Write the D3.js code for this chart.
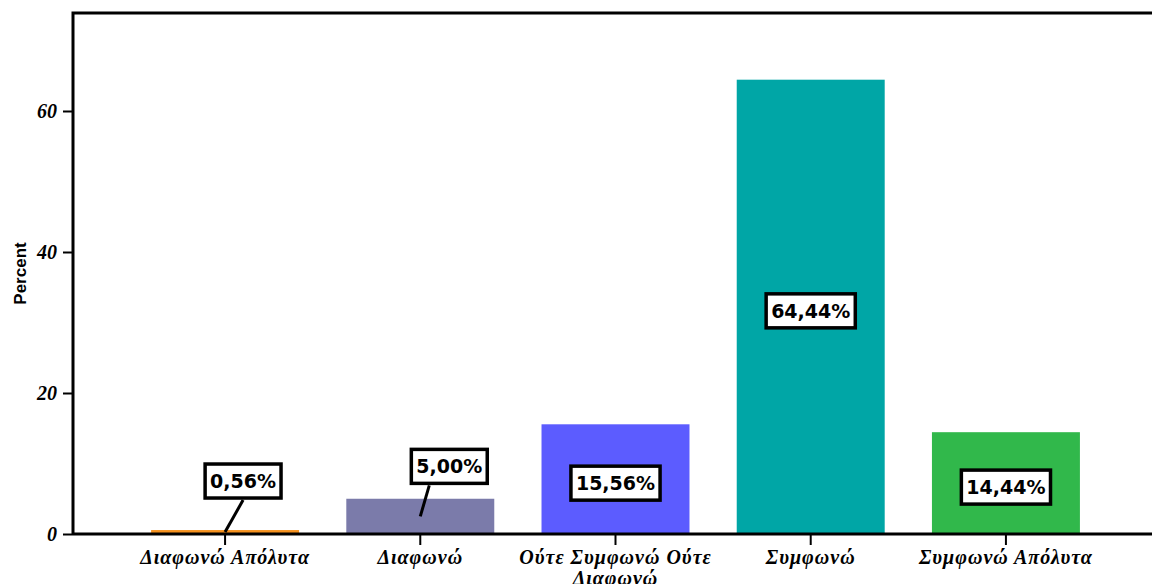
<!DOCTYPE html>
<html>
<head>
<meta charset="utf-8">
<script src="https://cdn.jsdelivr.net/npm/d3@7"></script>
<style>
  html, body { margin: 0; padding: 0; background: #fff; }
  svg { display: block; }
</style>
</head>
<body>
<svg id="chart" width="1152" height="584"></svg>
<script>
// Response categories and their share of answers (percent)
const categories = ["Διαφωνώ Απόλυτα", "Διαφωνώ", "Ούτε Συμφωνώ Ούτε Διαφωνώ", "Συμφωνώ", "Συμφωνώ Απόλυτα"];
const percents = [0.56, 5.00, 15.56, 64.44, 14.44];
const valueLabels = ["0,56%", "5,00%", "15,56%", "64,44%", "14,44%"];
const barColors = ["#f5911e", "#7b7baa", "#5c5cff", "#00a6a6", "#31b84b"];
const yTicks = [0, 20, 40, 60];

// Labels that do not fit inside their bar are lifted above it with a leader line:
// [box dx, box dy, leader start dx relative to the box centre]
const liftedNudge = [[18, -51, 0], [29, -50, -20]];

const svg = d3.select("#chart");
const margin = { left: 73, top: 13, right: -6 };
const W = 1152;
const plotBottom = 534;

const x = d3.scaleBand()
  .domain(categories)
  .range([margin.left, W - margin.right])
  .paddingInner(0.242)
  .paddingOuter(0.4);

const y = d3.scaleLinear()
  .domain([0, 73.9])
  .range([plotBottom, margin.top]);

// Bars
svg.append("g").selectAll("rect")
  .data(categories)
  .join("rect")
  .attr("x", d => x(d))
  .attr("width", x.bandwidth())
  .attr("y", (d, i) => y(percents[i]))
  .attr("height", (d, i) => y(0) - y(percents[i]))
  .attr("fill", (d, i) => barColors[i]);

// Frame: left axis line and top border
svg.append("path")
  .attr("d", `M${margin.left},${plotBottom}V${margin.top}H${W + 10}`)
  .attr("fill", "none").attr("stroke", "#000").attr("stroke-width", 3);

const serif = "'Liberation Serif', 'Times New Roman', serif";

// Y axis
const yAxis = svg.append("g")
  .attr("transform", `translate(${margin.left},0)`)
  .call(d3.axisLeft(y).tickValues(yTicks).tickSize(10).tickPadding(6).tickFormat(d3.format("d")));
yAxis.select(".domain").remove();
yAxis.selectAll(".tick line").attr("stroke", "#000").attr("stroke-width", 2);
yAxis.selectAll(".tick text")
  .attr("font-family", serif)
  .attr("font-weight", "bold").attr("font-style", "italic")
  .attr("font-size", 20).attr("fill", "#000");

// X axis
const xAxis = svg.append("g")
  .attr("transform", `translate(0,${plotBottom})`)
  .call(d3.axisBottom(x).tickSize(11).tickPadding(5));
xAxis.select(".domain").remove();
xAxis.selectAll(".tick line").attr("stroke", "#000").attr("stroke-width", 2);
xAxis.selectAll(".tick text")
  .attr("font-family", serif)
  .attr("font-weight", "bold").attr("font-style", "italic")
  .attr("font-size", 20).attr("letter-spacing", 1).attr("fill", "#000");

// Wrap long category names onto several lines
xAxis.selectAll(".tick text").each(function () {
  const text = d3.select(this);
  const words = text.text().split(/\s+/);
  const maxW = x.step() * 1.0;
  const dy0 = parseFloat(text.attr("dy")) || 0;
  text.text(null);
  let line = [];
  let tspan = text.append("tspan").attr("x", 0).attr("dy", dy0 + "em");
  words.forEach(w => {
    line.push(w);
    tspan.text(line.join(" "));
    if (tspan.node().getComputedTextLength() > maxW && line.length > 1) {
      line.pop();
      tspan.text(line.join(" "));
      line = [w];
      tspan = text.append("tspan").attr("x", 0).attr("dy", "1.05em").text(w);
    }
  });
});

// Baseline drawn over bars
svg.append("line")
  .attr("x1", margin.left).attr("x2", W + 10)
  .attr("y1", plotBottom).attr("y2", plotBottom)
  .attr("stroke", "#000").attr("stroke-width", 3);

// Y axis title
svg.append("text")
  .attr("transform", `translate(26,${(margin.top + plotBottom) / 2}) rotate(-90)`)
  .attr("text-anchor", "middle")
  .attr("font-family", "'Liberation Sans', Arial, sans-serif")
  .attr("font-weight", "bold").attr("font-size", 17)
  .text("Percent");

// Value labels in boxed callouts
const labels = svg.append("g");
categories.forEach((c, i) => {
  const cx = x(c) + x.bandwidth() / 2;
  const midY = y(percents[i] / 2);
  const nudge = liftedNudge[i] || [0, 4, 0];
  const lx = cx + nudge[0], ly = midY + nudge[1];
  const g = labels.append("g");
  if (liftedNudge[i]) {
    g.append("line")
      .attr("x1", lx + nudge[2]).attr("y1", ly + 19)
      .attr("x2", cx).attr("y2", midY)
      .attr("stroke", "#000").attr("stroke-width", 3);
  }
  const rect = g.append("rect");
  const t = g.append("text")
    .attr("x", lx).attr("y", ly)
    .attr("text-anchor", "middle").attr("dominant-baseline", "central")
    .attr("font-family", "'DejaVu Sans', sans-serif")
    .attr("font-weight", "bold").attr("font-size", 19)
    .text(valueLabels[i]);
  const bb = t.node().getBBox();
  const padX = 5;
  rect.attr("x", bb.x - padX).attr("y", ly - 17)
    .attr("width", bb.width + 2 * padX).attr("height", 34)
    .attr("fill", "#fff").attr("stroke", "#000").attr("stroke-width", 3.5);
});
</script>
</body>
</html>
